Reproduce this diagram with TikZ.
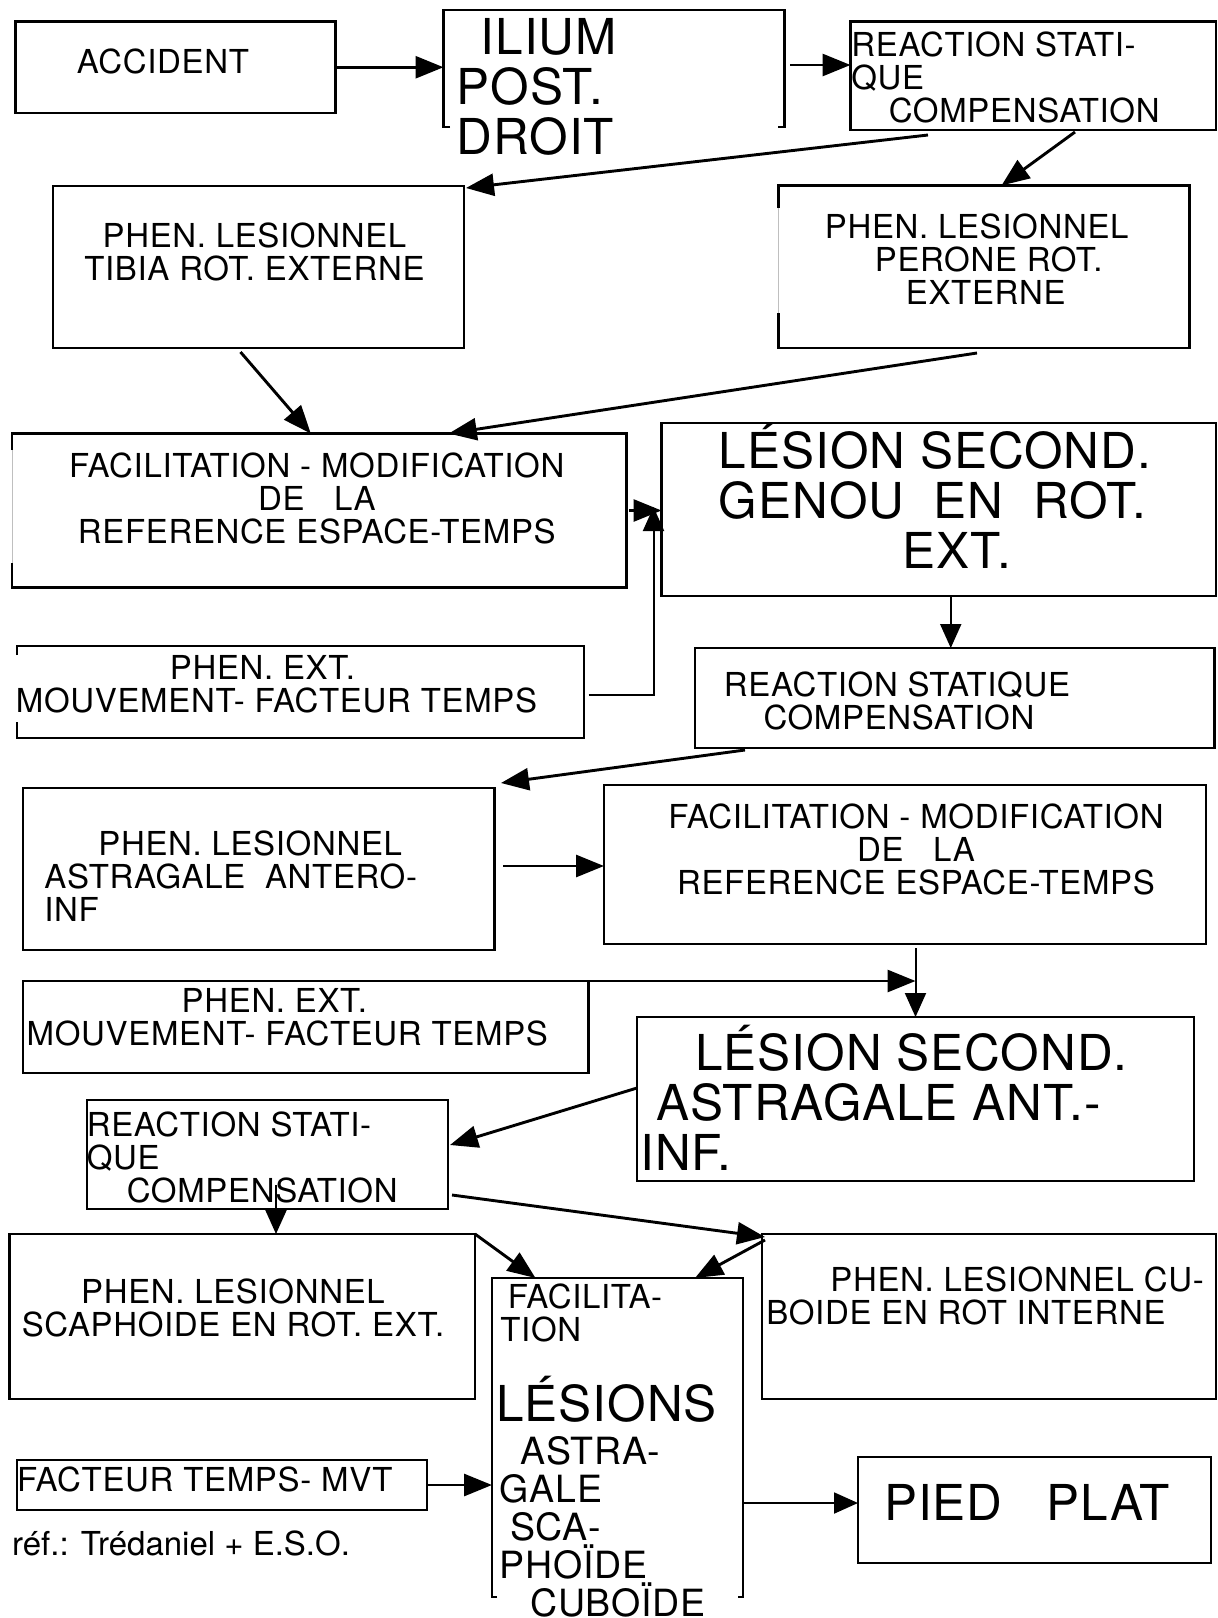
\documentclass[tikz,border=0pt]{standalone}
\usepackage{fontspec}
\setmainfont[LetterSpace=2]{TeX Gyre Heros}
\newfontfamily\plainheros{TeX Gyre Heros}
\usetikzlibrary{arrows.meta, calc, fit}

\tikzset{
  blk/.style={draw, line width=1.3pt, inner sep=0pt, outer sep=0pt},
  zone/.style={inner sep=0pt, outer sep=0pt},
  rim/.style={line width=1.3pt},
  gapline/.style={draw=black!25, line width=0.4pt},
  arr/.style={line width=1.45pt, -{Triangle[length=14pt,width=11pt]}},
  tarr/.style={line width=1pt, -{Triangle[length=12pt,width=10.5pt]}},
  lbl/.style={inner sep=0pt, font=\fontsize{16.5pt}{16.5pt}\selectfont},
  lblmid/.style={inner sep=0pt, font=\fontsize{18.75pt}{19pt}\selectfont},
  lblbig/.style={inner sep=0pt, font=\fontsize{24.75pt}{25pt}\selectfont},
}

\begin{document}
\begin{tikzpicture}[x=0.5pt, y=-0.5pt]
  \useasboundingbox (0,0) rectangle (1217,1618);

  % boxes
  \node[blk, fit={(15.5,21.5) (335.5,113)}] (accident) {};
  \node[zone, fit={(443.5,10) (784.5,127)}] (ilium) {};
  \node[blk, fit={(850.5,21.5) (1216,130)}] (react1) {};
  \node[blk, fit={(53,186) (464,348)}] (tibia) {};
  \node[zone, fit={(778.5,185.5) (1189.5,348)}] (perone) {};
  \node[zone, fit={(12,433.5) (626.5,587.5)}] (facil1) {};
  \node[blk, fit={(661.5,423) (1216,596)}] (lesion1) {};
  \node[zone, fit={(17,646) (584,738)}] (ext1) {};
  \node[blk, fit={(695,648) (1214.5,748)}] (react2) {};
  \node[blk, fit={(23,788) (494.5,950)}] (astrag) {};
  \node[blk, fit={(604,785) (1206,944)}] (facil2) {};
  \node[blk, fit={(23,981) (588.5,1073)}] (ext2) {};
  \node[blk, fit={(637,1017) (1194,1181)}] (lesion2) {};
  \node[blk, fit={(87,1100) (448,1209)}] (react3) {};
  \node[blk, fit={(9.5,1234) (475,1399)}] (scaph) {};
  \node[blk, fit={(762,1234) (1216,1399)}] (cuboide) {};
  \node[zone, fit={(492,1278) (743,1597)}] (central) {};
  \node[blk, fit={(17,1460) (427,1510)}] (facteur) {};
  \node[blk, fit={(858,1457) (1211,1563)}] (pied) {};

  % borders left open by the text
  \draw[rim] ($(ilium.south west)+(6.5,0)$) -| (ilium.north west) -| (ilium.south east) -- ++(-6.5,0);
  \draw[rim] ($(perone.north west)+(0,22.5)$) -- (perone.north west) -| (perone.south east) -| ($(perone.south west)+(0,-35)$);
  \draw[gapline] ($(perone.north west)+(0,22.5)$) -- ($(perone.south west)+(0,-35)$);
  \draw[rim] ($(facil1.north west)+(0,16.5)$) -- (facil1.north west) -| (facil1.south east) -| ($(facil1.south west)+(0,-24.5)$);
  \draw[gapline] ($(facil1.north west)+(0,16.5)$) -- ($(facil1.south west)+(0,-24.5)$);
  \draw[rim] ($(ext1.north west)+(0,9)$) -- (ext1.north west) -| (ext1.south east) -| ($(ext1.south west)+(0,-16)$);
  \draw[rim] ($(central.south west)+(5,0)$) -| (central.north west) -| (central.south east) -- ++(-5,0);

  % texts
  \node[lbl] (accident-t) at (163,61.5) {ACCIDENT};
  \node[lblbig, anchor=north west, align=left] (ilium-t) at (456.5,18)
    {\hspace*{12pt}ILIUM\\POST.\\DROIT};
  \node[lbl, anchor=north west, align=left] (react1-t) at (851,31.5)
    {REACTION STATI-\\QUE\\\hspace*{18.7pt}COMPENSATION};
  \node[lbl, anchor=north, align=center] (tibia-t) at (254.5,222)
    {PHEN. LESIONNEL\\TIBIA ROT. EXTERNE};
  \node[lbl, anchor=north west, align=left] (perone-t) at (824.5,213)
    {PHEN. LESIONNEL\\\hspace*{25pt}PERONE ROT.\\\hspace*{40.5pt}EXTERNE};
  \node[lbl, anchor=north, align=center] (facil1-t) at (316.8,452.6)
    {FACILITATION - MODIFICATION\\DE\ \ \ LA\hspace*{26pt}\\REFERENCE ESPACE-TEMPS};
  \node[lblbig, anchor=north west, align=left] (lesion1-t) at (718.5,423)
    {LÉSION SECOND.\\GENOU\ \ EN\ \ ROT.\\\hspace*{92pt}EXT.};
  \node[lbl, anchor=north west, align=left] (ext1-t) at (15.5,655)
    {\hspace*{77pt}PHEN. EXT.\\MOUVEMENT- FACTEUR TEMPS};
  \node[lbl, anchor=north west, align=left] (react2-t) at (723.5,671.5)
    {REACTION STATIQUE\\\hspace*{19.8pt}COMPENSATION};
  \node[lbl, anchor=north west, align=left] (astrag-t) at (44,830)
    {\hspace*{27pt}PHEN. LESIONNEL\\ASTRAGALE\ \ ANTERO-\\INF};
  \node[lbl, anchor=north, align=center] (facil2-t) at (916,803)
    {FACILITATION - MODIFICATION\\DE\ \ \ LA\hspace*{26pt}\\REFERENCE ESPACE-TEMPS};
  \node[lbl, anchor=north west, align=left] (ext2-t) at (26.3,988)
    {\hspace*{77.5pt}PHEN. EXT.\\MOUVEMENT- FACTEUR TEMPS};
  \node[lblbig, anchor=north west, align=left] (lesion2-t) at (640,1024.5)
    {\hspace*{27.5pt}LÉSION SECOND.\\\hspace*{8pt}ASTRAGALE ANT.-\\INF.};
  \node[lbl, anchor=north west, align=left] (react3-t) at (86.4,1111.5)
    {REACTION STATI-\\QUE\\\hspace*{20pt}COMPENSATION};
  \node[lbl, anchor=north, align=center] (scaph-t) at (233,1278)
    {PHEN. LESIONNEL\\SCAPHOIDE EN ROT. EXT.};
  \node[lbl, anchor=north west, align=left] (cuboide-t) at (766,1266)
    {\hspace*{32pt}PHEN. LESIONNEL CU-\\BOIDE EN ROT INTERNE};
  \node[lbl, anchor=north west, align=left] (central-t1) at (500,1283)
    {\hspace*{3.7pt}FACILITA-\\TION};
  \node[lblbig, anchor=north west] (central-t2) at (496,1376) {LÉSIONS};
  \node[lblmid, anchor=north west, align=left] (central-t3) at (499.5,1436)
    {\hspace*{10.25pt}ASTRA-\\GALE\\\hspace*{5.15pt}SCA-\\PHOÏDE\\\hspace*{15.15pt}CUBOÏDE};
  \node[lbl, anchor=north west] (facteur-t) at (16.8,1466) {FACTEUR TEMPS- MVT};
  \node[lbl, anchor=north west, font=\fontsize{16.5pt}{16.5pt}\plainheros] (ref-t) at (11.8,1530.5)
    {réf.: Trédaniel + E.S.O.};
  \node[lblbig] (pied-t) at (1027,1502.5) {PIED\ \ \ PLAT};

  % connectors
  \draw[arr] (accident.east) -- (accident.east -| ilium.west);
  \draw[arr] ($(ilium.east)+(5.5,-3.5)$) coordinate (a) -- (a -| react1.west);
  \draw[arr] ($(react1.south west)+(77.5,5)$) -- ($(tibia.north east)+(2,2)$);
  \draw[arr] ($(react1.south west)+(224.5,2)$) -- ($(perone.north)+(17.5,0)$);
  \draw[arr] ($(tibia.south)+(-18,4)$) -- ($(facil1.north)+(-8.5,0)$);
  \draw[arr] ($(perone.south)+(-7,5)$) -- ($(facil1.north)+(129.5,0)$);
  \draw[arr] ($(facil1.east)+(2.5,0)$) -- (facil1.east -| lesion1.west);
  \draw[tarr] ($(ext1.east)+(4.5,3)$) -| ($(lesion1.west)+(-8,-2.5)$);
  \draw[tarr] ($(lesion1.south)+(12,0)$) coordinate (b) -- (b |- react2.north);
  \draw[arr] ($(react2.south west)+(50,2)$) -- ($(astrag.north east)+(6.5,-5)$);
  \draw[arr] ($(astrag.east)+(8.5,-3)$) coordinate (c) -- (c -| facil2.west);
  \draw[arr] (ext2.north east) -- (ext2.north east -| lesion2.north);
  \draw[tarr] ($(facil2.south -| lesion2.north)+(0,4)$) -- (lesion2.north);
  \draw[arr] ($(lesion2.west)+(0,-11)$) -- ($(react3.east)+(2,-9.5)$);
  \draw[tarr] ($(react3.south)+(8.5,-24)$) coordinate (d) -- (d |- scaph.north);
  \draw[arr] ($(react3.south east)+(4,-14)$) -- ($(cuboide.north west)+(3,3)$);
  \draw[arr] (scaph.north east) -- ($(central.north west)+(43.5,0)$);
  \draw[arr] ($(cuboide.north west)+(3,6)$) -- ($(central.north east)+(-48,0)$);
  \draw[arr] (facteur.east) -- (facteur.east -| central.west);
  \coordinate (e) at ($(pied.west)+(0,-7)$);
  \draw[tarr] (e -| central.east) -- (e);
\end{tikzpicture}
\end{document}
